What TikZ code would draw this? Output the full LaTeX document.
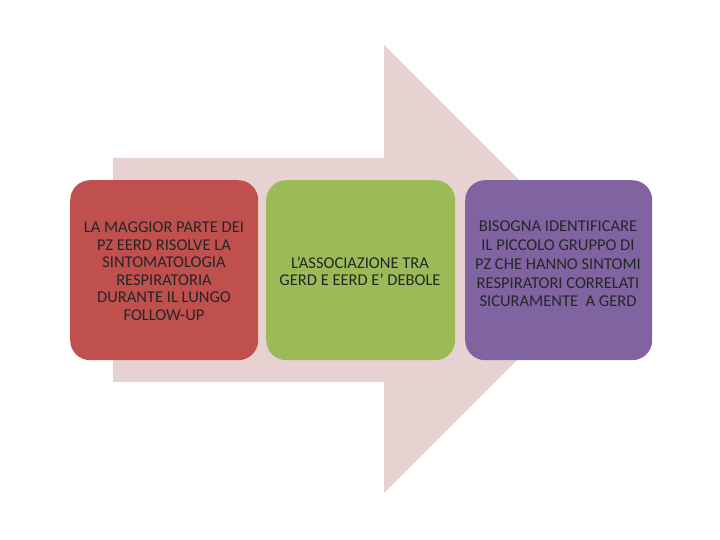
\documentclass[tikz,border=0pt]{standalone}
\usepackage{fontspec}
\setmainfont{Carlito}
\definecolor{arrowpink}{HTML}{E8D1D1}
\definecolor{boxred}{HTML}{C0504D}
\definecolor{boxgreen}{HTML}{9BBB59}
\definecolor{boxpurple}{HTML}{8064A2}
\definecolor{txt}{HTML}{262626}
\begin{document}
\begin{tikzpicture}[x=1bp,y=-1bp,
  panel/.style={rounded corners=20bp, minimum width=188bp, minimum height=180bp, inner sep=0pt, anchor=north west},
  label/.style={text=txt, align=center, font=\fontsize{16.5bp}{17.5bp}\selectfont, inner sep=0pt}]
\useasboundingbox (0,0) rectangle (720,540);
\fill[arrowpink] (113,158) -- (384,158) -- (384,45) -- (608,269) -- (384,493) -- (384,382) -- (113,382) -- cycle;
\node[panel, fill=boxred] (red) at (70,180) {};
\node[panel, fill=boxgreen, minimum width=189bp] (green) at (266,180) {};
\node[panel, fill=boxpurple, minimum width=187bp] (purple) at (465,180) {};
\node[label] (t1) at (164,271) {LA MAGGIOR PARTE DEI\\PZ EERD RISOLVE LA\\SINTOMATOLOGIA\\RESPIRATORIA\\DURANTE IL LUNGO\\FOLLOW-UP};
\node[label] (t2) at (360,271) {L’ASSOCIAZIONE TRA\\GERD E EERD E’ DEBOLE};
\node[label, font=\fontsize{16.5bp}{18.75bp}\selectfont] (t3) at (558,264) {BISOGNA IDENTIFICARE\\IL PICCOLO GRUPPO DI\\PZ CHE HANNO SINTOMI\\RESPIRATORI CORRELATI\\SICURAMENTE\ \ A GERD};
\end{tikzpicture}
\end{document}
